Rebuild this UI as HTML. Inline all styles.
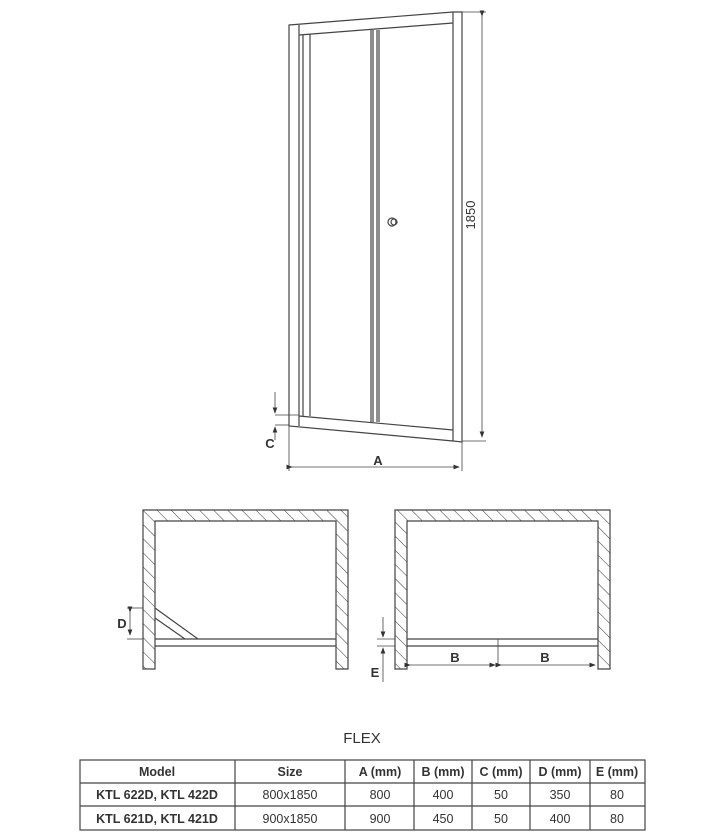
<!DOCTYPE html>
<html><head><meta charset="utf-8"><style>
body{margin:0;background:#fff;}
svg{display:block;font-family:"Liberation Sans",sans-serif;}
</style></head><body>
<svg width="727" height="837" viewBox="0 0 727 837" xmlns="http://www.w3.org/2000/svg">
<defs>
<pattern id="h" patternUnits="userSpaceOnUse" width="10" height="10" patternTransform="rotate(-45)">
<line x1="0" y1="0" x2="0" y2="10" stroke="#444" stroke-width="1.1"/>
</pattern>
<marker id="ar" markerWidth="8" markerHeight="6" refX="7" refY="3" orient="auto"><path d="M0,0 L8,3 L0,6 z" fill="#333"/></marker>
</defs>
<rect width="727" height="837" fill="#fff"/>
<g fill="none" stroke="#444" stroke-width="1.2">
<polygon points="289,25 453,12 462,12 462,442 453,441 289,426"/>
<line x1="299" y1="25" x2="299" y2="426"/>
<line x1="453" y1="12" x2="453" y2="441"/>
<line x1="299" y1="35" x2="453" y2="23"/>
<line x1="299" y1="416" x2="453" y2="430"/>
<line x1="303" y1="35" x2="303" y2="416"/>
<line x1="310" y1="34" x2="310" y2="416"/>
<line x1="371" y1="30" x2="371" y2="422"/>
<line x1="373" y1="30" x2="373" y2="422"/>
<line x1="377" y1="30" x2="377" y2="422"/>
<line x1="379" y1="30" x2="379" y2="422"/>
<circle cx="392" cy="222" r="4"/><circle cx="394" cy="222" r="3"/>
<line x1="462" y1="12" x2="486" y2="12" stroke-width="0.8"/>
<line x1="462" y1="441" x2="486" y2="441" stroke-width="0.8"/>
<line x1="482" y1="16" x2="482" y2="437" stroke-width="0.8" marker-start="url(#ar)" marker-end="url(#ar)"/>
<line x1="289" y1="426" x2="289" y2="471" stroke-width="0.8"/>
<line x1="462" y1="442" x2="462" y2="471" stroke-width="0.8"/>
<line x1="292" y1="467" x2="459" y2="467" stroke-width="0.8" marker-start="url(#ar)" marker-end="url(#ar)"/>
<line x1="275" y1="415" x2="299" y2="415" stroke-width="0.8"/>
<line x1="275" y1="425" x2="289" y2="425" stroke-width="0.8"/>
<line x1="275" y1="392" x2="275" y2="413" stroke-width="0.8" marker-end="url(#ar)"/>
<line x1="275" y1="440" x2="275" y2="427" stroke-width="0.8" marker-end="url(#ar)"/>
</g>
<text x="475" y="215" font-size="13" fill="#333" transform="rotate(-90 475 215)" text-anchor="middle">1850</text>
<text x="378" y="465" font-size="13" font-weight="bold" fill="#333" text-anchor="middle">A</text>
<text x="270" y="448" font-size="13" font-weight="bold" fill="#333" text-anchor="middle">C</text>

<path d="M143,510 H348 V669 H336 V521 H155 V669 H143 Z" fill="url(#h)" stroke="#444" stroke-width="1.2"/>
<g fill="none" stroke="#444" stroke-width="1.2">
<line x1="155" y1="639" x2="336" y2="639"/>
<line x1="155" y1="646" x2="336" y2="646"/>
<line x1="155" y1="608" x2="198" y2="639"/>
<line x1="155" y1="618" x2="185" y2="639"/>
<line x1="127" y1="608" x2="143" y2="608" stroke-width="0.8"/>
<line x1="127" y1="639" x2="143" y2="639" stroke-width="0.8"/>
<line x1="130" y1="612" x2="130" y2="635" stroke-width="0.8" marker-start="url(#ar)" marker-end="url(#ar)"/>
</g>
<text x="122" y="628" font-size="13" font-weight="bold" fill="#333" text-anchor="middle">D</text>

<path d="M395,510 H610 V669 H598 V521 H407 V669 H395 Z" fill="url(#h)" stroke="#444" stroke-width="1.2"/>
<g fill="none" stroke="#444" stroke-width="1.2">
<line x1="407" y1="639" x2="598" y2="639"/>
<line x1="407" y1="646" x2="598" y2="646"/>
<line x1="498" y1="639" x2="498" y2="666" stroke-width="0.8"/>
<line x1="410" y1="665" x2="495" y2="665" stroke-width="0.8" marker-start="url(#ar)" marker-end="url(#ar)"/>
<line x1="501" y1="665" x2="595" y2="665" stroke-width="0.8" marker-start="url(#ar)" marker-end="url(#ar)"/>
<line x1="377" y1="639" x2="395" y2="639" stroke-width="0.8"/>
<line x1="377" y1="646" x2="395" y2="646" stroke-width="0.8"/>
<line x1="383" y1="617" x2="383" y2="637" stroke-width="0.8" marker-end="url(#ar)"/>
<line x1="383" y1="682" x2="383" y2="648" stroke-width="0.8" marker-end="url(#ar)"/>
</g>
<text x="455" y="662" font-size="13" font-weight="bold" fill="#333" text-anchor="middle">B</text>
<text x="545" y="662" font-size="13" font-weight="bold" fill="#333" text-anchor="middle">B</text>
<text x="375" y="677" font-size="13" font-weight="bold" fill="#333" text-anchor="middle">E</text>

<text x="362" y="743" font-size="15" fill="#333" text-anchor="middle">FLEX</text>
<g fill="none" stroke="#444" stroke-width="1.2">
<rect x="80" y="760" width="565" height="70"/>
<line x1="80" y1="783" x2="645" y2="783"/>
<line x1="80" y1="806" x2="645" y2="806"/>
<line x1="235" y1="760" x2="235" y2="830"/>
<line x1="345" y1="760" x2="345" y2="830"/>
<line x1="414" y1="760" x2="414" y2="830"/>
<line x1="472" y1="760" x2="472" y2="830"/>
<line x1="530" y1="760" x2="530" y2="830"/>
<line x1="590" y1="760" x2="590" y2="830"/>
</g>
<g font-size="12.5" fill="#333" text-anchor="middle">
<g font-weight="bold">
<text x="157" y="776">Model</text><text x="290" y="776">Size</text><text x="380" y="776">A (mm)</text><text x="443" y="776">B (mm)</text><text x="501" y="776">C (mm)</text><text x="560" y="776">D (mm)</text><text x="617" y="776">E (mm)</text>
<text x="157" y="799">KTL 622D, KTL 422D</text><text x="157" y="823">KTL 621D, KTL 421D</text>
</g>
<text x="290" y="799">800x1850</text><text x="380" y="799">800</text><text x="443" y="799">400</text><text x="501" y="799">50</text><text x="560" y="799">350</text><text x="617" y="799">80</text>
<text x="290" y="823">900x1850</text><text x="380" y="823">900</text><text x="443" y="823">450</text><text x="501" y="823">50</text><text x="560" y="823">400</text><text x="617" y="823">80</text>
</g>
</svg>
</body></html>
